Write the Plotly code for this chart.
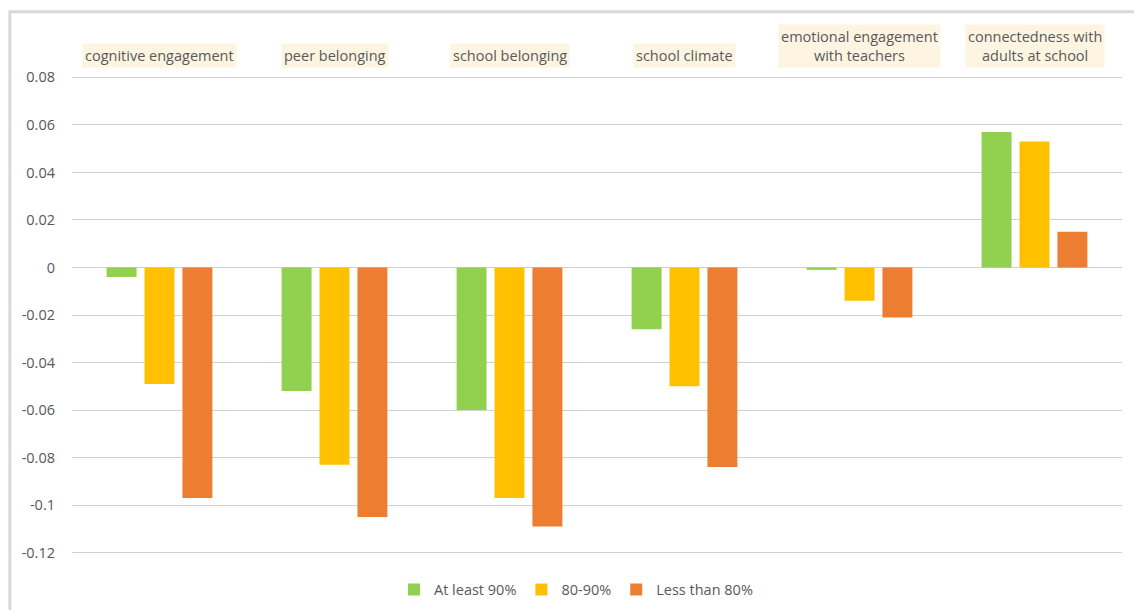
import plotly.graph_objects as go

categories = ["cognitive engagement", "peer belonging", "school belonging",
              "school climate", "emotional engagement<br>with teachers",
              "connectedness with<br>adults at school"]
series_names = ["At least 90%", "80-90%", "Less than 80%"]
at_least_90 = [-0.004, -0.052, -0.060, -0.026, -0.001, 0.057]
from_80_to_90 = [-0.049, -0.083, -0.097, -0.050, -0.014, 0.053]
less_than_80 = [-0.097, -0.105, -0.109, -0.084, -0.021, 0.015]
colors = ["#92D050", "#FFC000", "#ED7D31"]
y_ticks = [0.08, 0.06, 0.04, 0.02, 0, -0.02, -0.04, -0.06, -0.08, -0.1, -0.12]
y_tick_labels = ["0.08", "0.06", "0.04", "0.02", "0", "-0.02", "-0.04",
                 "-0.06", "-0.08", "-0.1", "-0.12"]

FONT = "Open Sans"
TXT = "#595959"
FS = 14.5

fig = go.Figure()
for name, vals, col in zip(series_names, [at_least_90, from_80_to_90, less_than_80], colors):
    fig.add_trace(go.Bar(x=list(range(len(categories))), y=vals, name=name,
                         marker=dict(color=col, line=dict(width=0))))

for i, cat in enumerate(categories):
    fig.add_annotation(x=i, y=1.014, xref="x", yref="paper", text=cat,
                       showarrow=False, yanchor="bottom", xanchor="center",
                       bgcolor="#FDF5E2", borderpad=2,
                       font=dict(family=FONT, size=FS, color=TXT))

# outer chart border (top & left)
fig.add_shape(type="rect", xref="paper", yref="paper",
              x0=-0.0592, x1=1.05, y0=-0.2, y1=1.132,
              line=dict(color="#D9D9D9", width=3), fillcolor="rgba(0,0,0,0)",
              layer="below")

fig.update_layout(
    width=1134, height=610,
    margin=dict(l=72, r=12, t=75, b=55, autoexpand=False),
    paper_bgcolor="white", plot_bgcolor="white",
    barmode="group", bargap=0.35, bargroupgap=0.21,
    font=dict(family=FONT, size=FS, color=TXT),
    showlegend=True,
    legend=dict(orientation="h", x=0.48, xanchor="center", y=-0.072, yanchor="middle",
                font=dict(family=FONT, size=FS, color=TXT), itemwidth=30,
                traceorder="normal"),
    xaxis=dict(range=[-0.5, 5.5], showticklabels=False, showgrid=False,
               zeroline=False, showline=False, ticks=""),
    yaxis=dict(range=[-0.121, 0.081], tickvals=y_ticks, ticktext=y_tick_labels,
               showgrid=True, gridcolor="#D0D0D0", gridwidth=1,
               zeroline=True, zerolinecolor="#D0D0D0", zerolinewidth=1,
               showline=False, ticks="", ticklabelstandoff=16,
               tickfont=dict(family=FONT, size=FS, color=TXT)),
)

fig.write_html("out.html")
